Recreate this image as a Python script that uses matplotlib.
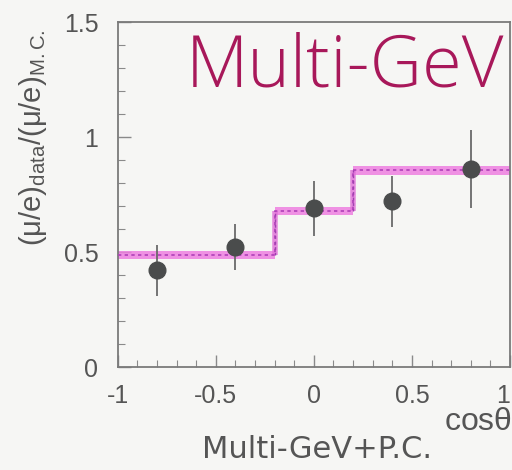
import matplotlib
matplotlib.use("Agg")
import matplotlib.pyplot as plt
import numpy as np
from matplotlib.ticker import MultipleLocator

plt.rcParams["mathtext.fontset"] = "custom"
plt.rcParams["mathtext.rm"] = "Liberation Sans"
plt.rcParams["mathtext.it"] = "Liberation Sans:italic"
plt.rcParams["mathtext.bf"] = "Liberation Sans:bold"

# Monte Carlo expectation (histogram bins) and measured points
bin_edges = [-1.0, -0.2, 0.2, 1.0]
mc_ratio = [0.487, 0.68, 0.855]
band_half = 0.018

cos_theta = [-0.8, -0.4, 0.0, 0.4, 0.8]
ratio = [0.42, 0.52, 0.69, 0.72, 0.86]
ratio_err = [0.11, 0.10, 0.12, 0.11, 0.17]

x_ticks = [-1, -0.5, 0, 0.5, 1]
x_ticklabels = ["-1", "-0.5", "0", "0.5", "1"]
y_ticks = [0, 0.5, 1, 1.5]
y_ticklabels = ["0", "0.5", "1", "1.5"]

bg = "#f6f6f4"
ink = "#555555"
sans = "Liberation Sans"

fig = plt.figure(figsize=(5.12, 4.70), dpi=100, facecolor=bg)
ax = fig.add_axes([0.230, 0.219, 0.766, 0.734], facecolor=bg)

# MC band
edges = np.array(bin_edges)
vals = np.array(mc_ratio)
ax.stairs(vals + band_half, edges, baseline=vals - band_half, fill=True,
          color="#ee7fe0", alpha=0.85, lw=0, zorder=2)
ax.stairs(vals, edges, baseline=None, color="#b040b8", lw=1.2,
          linestyle=(0, (2, 2)), zorder=3)
# vertical connectors of the band
for i in range(1, len(vals)):
    ax.plot([edges[i], edges[i]], [vals[i-1], vals[i]], color="#e070d8", lw=4,
            alpha=0.8, zorder=2, solid_capstyle="butt")
    ax.plot([edges[i], edges[i]], [vals[i-1], vals[i]], color="#a040b0", lw=1,
            linestyle=(0, (2, 2)), zorder=3)

# data
ax.errorbar(cos_theta, ratio, yerr=ratio_err, fmt="o", ms=12,
            mfc="#4a4c4c", mec="#4a4c4c", ecolor="#6a6a6a", elinewidth=1.3,
            capsize=0, zorder=4)

ax.set_xlim(-1, 1)
ax.set_ylim(0, 1.5)
ax.set_xticks(x_ticks)
ax.set_xticklabels(x_ticklabels, fontfamily=sans)
ax.set_yticks(y_ticks)
ax.set_yticklabels(y_ticklabels, fontfamily=sans)
ax.get_xticklabels()[-1].set_horizontalalignment("right")
ax.xaxis.set_minor_locator(MultipleLocator(0.1))
ax.yaxis.set_minor_locator(MultipleLocator(0.1))
ax.tick_params(which="both", direction="in", colors="#8a8a8a", labelcolor=ink,
               labelsize=18, top=False, right=False)
ax.tick_params(which="major", length=9, width=1)
ax.tick_params(which="minor", length=5, width=0.8)
ax.tick_params(axis="x", pad=12)
ax.tick_params(axis="y", pad=14)
for s in ax.spines.values():
    s.set_color("#7a7a7a")
    s.set_linewidth(1.3)

ax.text(0.985, 0.867, "Multi-GeV", transform=ax.transAxes, ha="right", va="center",
        fontsize=52, color="#a8185a", family="Open Sans", fontweight="light")

ax.set_ylabel(r"$\mathrm{(\mu/e)_{data}/(\mu/e)_{M.C.}}$", fontsize=21, color=ink,
              labelpad=2)
ax.yaxis.set_label_coords(-0.175, 0.665)

fig.text(0.999, 0.102, r"cos$\mathrm{\theta}$", ha="right", va="center", fontsize=23,
         color=ink, family=sans)
fig.text(0.619, 0.043, "Multi-GeV+P.C.", ha="center", va="center", fontsize=22,
         color=ink, family="DejaVu Sans")

fig.savefig("out.png", dpi=100, facecolor=bg)
